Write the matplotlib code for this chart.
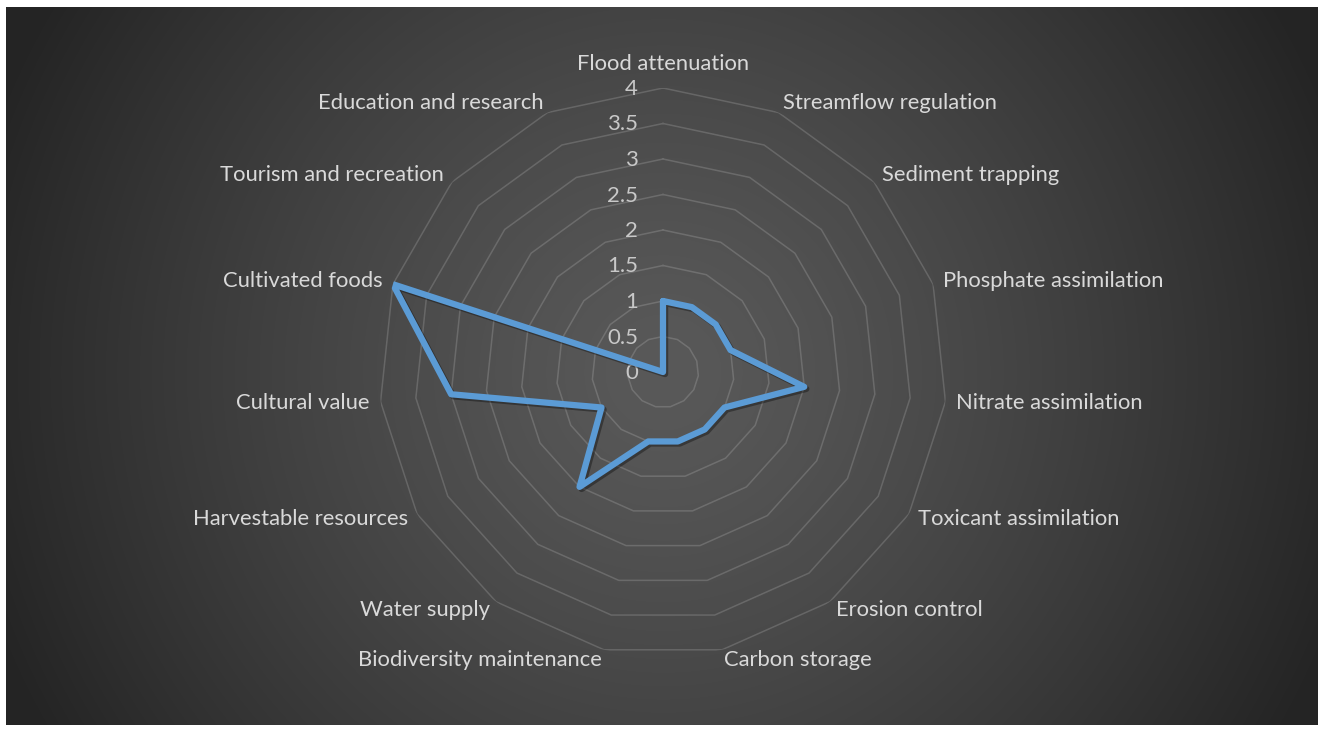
import numpy as np
import matplotlib
matplotlib.use("Agg")
import matplotlib.pyplot as plt
import matplotlib.patheffects as pe

# Ecosystem service scores (clockwise from the top)
categories = [
    "Flood attenuation", "Streamflow regulation", "Sediment trapping",
    "Phosphate assimilation", "Nitrate assimilation", "Toxicant assimilation",
    "Erosion control", "Carbon storage", "Biodiversity maintenance",
    "Water supply", "Harvestable resources", "Cultural value",
    "Cultivated foods", "Tourism and recreation", "Education and research",
]
scores = [1, 1, 1, 1, 2, 1, 1, 1, 1, 2, 1, 3, 4, 0, 0]
ring_values = [0.5, 1, 1.5, 2, 2.5, 3, 3.5, 4]
tick_values = [0, 0.5, 1, 1.5, 2, 2.5, 3, 3.5, 4]
tick_labels = ["0", "0.5", "1", "1.5", "2", "2.5", "3", "3.5", "4"]

W, H = 1319, 734
DPI = 100
fig = plt.figure(figsize=(W / DPI, H / DPI), dpi=DPI, facecolor="white")

# Dark chart area with a soft radial gradient
x0, x1, y0, y1 = 6, 1318, 7, 725
bg = fig.add_axes([x0 / W, 1 - y1 / H, (x1 - x0) / W, (y1 - y0) / H])
bg.set_axis_off()
cx, cy = 663, 372
xs = np.arange(x0, x1)
ys = np.arange(y0, y1)
XX, YY = np.meshgrid(xs, ys)
t = np.clip(np.hypot(XX - cx, YY - cy) / 720.0, 0, 1) ** 1.3
val = (89 - 53 * t) / 255.0
img = np.dstack([val, val, val])
bg.imshow(img, aspect="auto", interpolation="bilinear")

# Radar axes
R = 284
ax = fig.add_axes([(cx - R) / W, (H - cy - R) / H, 2 * R / W, 2 * R / H],
                  projection="polar")
ax.set_facecolor("none")
ax.set_theta_zero_location("N")
ax.set_theta_direction(-1)
ax.set_ylim(0, 4)
ax.grid(False)
ax.spines["polar"].set_visible(False)
ax.set_xticks([])
ax.set_yticks([])

n = len(categories)
theta = np.linspace(0, 2 * np.pi, n, endpoint=False)
theta_closed = np.append(theta, theta[0])

# Polygonal grid rings
for rv in ring_values:
    ax.plot(theta_closed, [rv] * (n + 1), color="white", alpha=0.16, lw=1.1,
            zorder=1)

# Value labels along the vertical axis
text_col = "#d9d9d9"
for v, lab in zip(tick_values, tick_labels):
    ax.annotate(lab, xy=(0, v), xytext=(-25, -1), textcoords="offset pixels",
                ha="right", va="center", color="#c8c8c8", fontsize=16,
                family="Lato", zorder=3)

# Category labels
for ang, lab in zip(theta, categories):
    s = np.sin(ang)
    if abs(s) < 0.05:
        ax.text(ang, 4.2, lab, ha="center", va="bottom", color=text_col,
                fontsize=15.8, family="Lato")
    else:
        ax.text(ang, 4.15, lab, ha="left" if s > 0 else "right", va="center",
                color=text_col, fontsize=15.8, family="Lato")

# Data series
vals_closed = scores + scores[:1]
ax.plot(theta_closed, vals_closed, color="#5B9BD5", lw=4.5,
        solid_joinstyle="round", solid_capstyle="round", zorder=4,
        path_effects=[pe.SimpleLineShadow(offset=(1.5, -1.5),
                                          shadow_color="black", alpha=0.35),
                      pe.Normal()])

fig.savefig("out.png", dpi=DPI, facecolor="white")
